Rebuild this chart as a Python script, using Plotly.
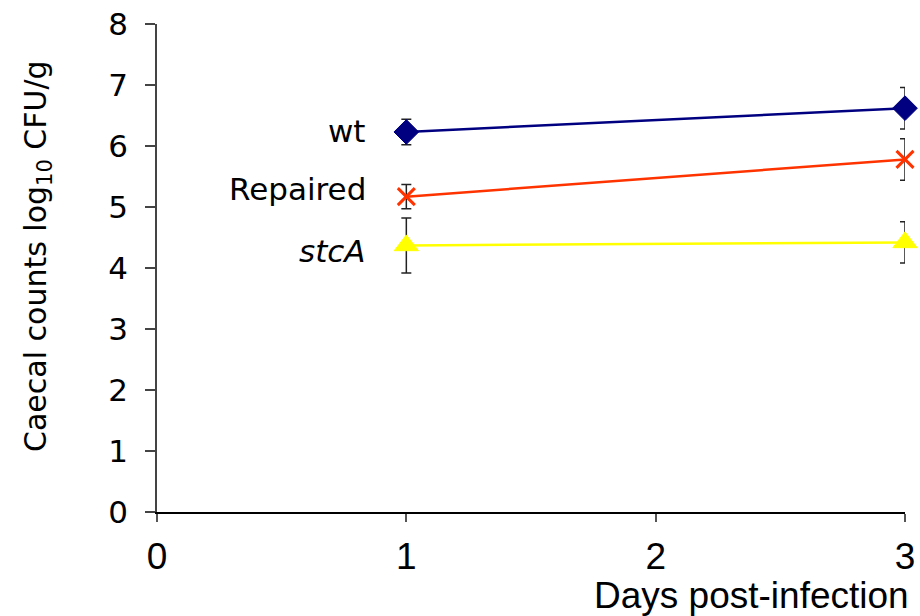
import plotly.graph_objects as go

days = [1, 3]
wt = [6.23, 6.62]
wt_err = [0.21, 0.34]
repaired = [5.17, 5.78]
repaired_err = [0.2, 0.34]
stca = [4.37, 4.42]
stca_err = [0.45, 0.34]
x_ticks = [0, 1, 2, 3]
y_ticks = [0, 1, 2, 3, 4, 5, 6, 7, 8]

F1 = "DejaVu Sans"
F2 = "Liberation Sans"

fig = go.Figure()

def add(y, err, color, symbol, size, lw=1):
    fig.add_trace(go.Scatter(
        x=days, y=y, mode="lines+markers",
        line=dict(color=color, width=2.5),
        marker=dict(symbol=symbol, size=size, color=color,
                    line=dict(color=color, width=lw)),
        error_y=dict(type="data", array=err, visible=True,
                     color="#222222", thickness=1.5, width=5),
        cliponaxis=False, showlegend=False))

add(wt, wt_err, "#000080", "diamond", 19)
add(repaired, repaired_err, "#FF3300", "x-thin-open", 17, 3)
add(stca, stca_err, "#FFFF00", "triangle-up", 21)

labels = [("wt", wt[0], 1), ("Repaired", repaired[0], 8), ("<i>stcA</i>", stca[0], -6)]
for txt, yv, ys in labels:
    fig.add_annotation(x=days[0], y=yv, text=txt, showarrow=False,
                       xanchor="right", yanchor="middle", xshift=-38, yshift=ys,
                       font=dict(family=F1, size=31, color="black"))

fig.add_annotation(x=1, xref="paper", y=0, yref="paper", text="Days post-infection",
                   showarrow=False, xanchor="right", yanchor="middle", xshift=6, yshift=-83,
                   font=dict(family=F2, size=37, color="black"))

fig.add_annotation(x=0, xref="paper", y=0.5, yref="paper",
                   text="Caecal counts log<sub>10</sub> CFU/g", textangle=-90,
                   showarrow=False, xanchor="center", yanchor="middle", xshift=-120, yshift=12,
                   font=dict(family=F1, size=30, color="black"))

fig.update_xaxes(range=[0, 3], tickvals=x_ticks, ticktext=[str(v) for v in x_ticks],
                 showline=True, linecolor="black", linewidth=1.5,
                 ticks="outside", ticklen=8, tickcolor="#555555", tickwidth=1.5,
                 showgrid=False, zeroline=False, automargin=False,
                 ticklabelstandoff=3, ticklabeloverflow="allow",
                 tickfont=dict(family=F2, size=37, color="black"))
fig.update_yaxes(range=[0, 8], tickvals=y_ticks,
                 showline=True, linecolor="#444444", linewidth=1.5,
                 ticks="outside", ticklen=10, tickcolor="#444444", tickwidth=1.5,
                 showgrid=False, zeroline=False, automargin=False,
                 ticklabelstandoff=11, ticklabeloverflow="allow",
                 tickfont=dict(family=F1, size=31, color="black"))

fig.update_layout(width=920, height=616,
                  margin=dict(l=157, r=14.5, t=24, b=104),
                  paper_bgcolor="white", plot_bgcolor="white")

fig.write_html("out.html", config={"displayModeBar": False},
               post_script="document.body.style.margin='0';document.body.style.overflow='hidden';")
